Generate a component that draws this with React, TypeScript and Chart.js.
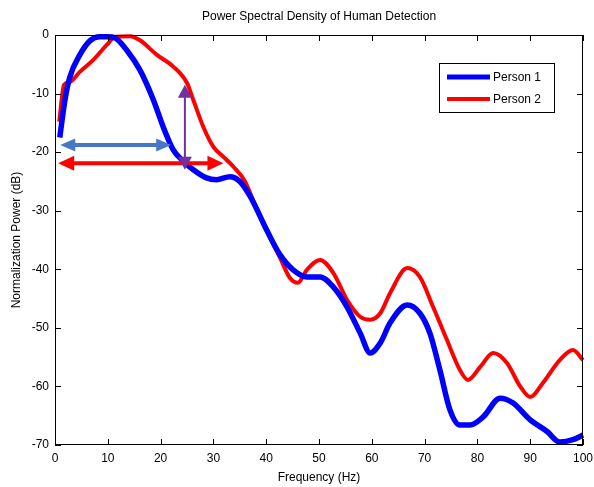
import React, { useEffect, useRef } from "react";
import { Chart, registerables } from "chart.js";
Chart.register(...registerables);

const TITLE = "Power Spectral Density of Human Detection";
const X_LABEL = "Frequency (Hz)";
const Y_LABEL = "Normalization Power (dB)";
const SERIES_NAMES = ["Person 1", "Person 2"];
const X_MIN = 0;
const X_MAX = 100;
const Y_MIN = -70;
const Y_MAX = 0;
const X_TICKS = [0, 10, 20, 30, 40, 50, 60, 70, 80, 90, 100];
const Y_TICKS = [0, -10, -20, -30, -40, -50, -60, -70];

const freq1 = [0.9, 1.9, 2.8, 4.7, 6.6, 8.5, 10, 11.4, 13.6, 16.1, 18.6, 20.5, 22.4, 24, 26.2, 28.7, 30.6, 33.1, 35, 37, 40.1, 42.6, 45.1, 47.7, 50.2, 52.7, 55.3, 57.8, 59.7, 61.6, 63.5, 66.7, 69.1, 71, 72.9, 74.8, 76.7, 78.6, 81.1, 84.3, 86.7, 90, 93.2, 95.6, 98.1, 100];
const power1 = [-17.5, -11, -7.2, -3.4, -1, -0.3, -0.3, -0.5, -2.6, -6, -11, -15.7, -19.6, -21.3, -23, -24.4, -24.7, -24.2, -25, -27.6, -33.3, -37.5, -40.1, -41.3, -41.3, -43, -46.4, -50.9, -54.3, -52.6, -49.1, -46.1, -47.5, -50.9, -57.2, -64, -66.6, -66.6, -65.2, -62, -62.8, -65.7, -67.7, -69.5, -69.1, -68.3];

const freq2 = [0.8, 1.7, 2.8, 4.7, 7.2, 9.8, 11.4, 14.2, 16.1, 19.3, 22.4, 25, 26.2, 28.1, 30, 31.9, 33.8, 36, 37.5, 40.1, 42.6, 44.5, 46, 47.7, 50.2, 52.7, 55.3, 57.8, 59.7, 61.6, 63.5, 66.7, 69.1, 71.6, 74.2, 76.7, 78.2, 80.5, 83, 85.6, 88.1, 90, 92.4, 95.6, 98.1, 100];
const power2 = [-14.8, -8.5, -8, -6.3, -4.3, -1.7, -0.3, -0.2, -0.9, -3.4, -5.4, -8.2, -11.1, -15.7, -19.1, -20.8, -22.5, -25, -28.2, -33.5, -38, -41.5, -42.3, -40.1, -38.4, -40.6, -45.2, -48.1, -48.6, -47.5, -44, -39.8, -41.3, -46.4, -52, -57.2, -58.9, -56.7, -54.3, -56, -60, -61.8, -59.4, -55.5, -53.8, -55.5];

// annotation arrows [x1, y1, x2, y2] in data units
const arrowBlue = [1, -18.8, 22, -18.8];
const arrowRed = [0.6, -21.9, 31.9, -21.9];
const arrowPurple = [24.6, -23, 24.6, -8.5];

const FONT = "'Liberation Sans', Arial, sans-serif";

function head(ctx: CanvasRenderingContext2D, tx: number, ty: number, ang: number, len: number, hw: number) {
  ctx.beginPath();
  ctx.moveTo(tx, ty);
  ctx.lineTo(tx - len * Math.cos(ang) + hw * Math.sin(ang), ty - len * Math.sin(ang) - hw * Math.cos(ang));
  ctx.lineTo(tx - len * Math.cos(ang) - hw * Math.sin(ang), ty - len * Math.sin(ang) + hw * Math.cos(ang));
  ctx.closePath();
  ctx.fill();
}

function dblArrow(chart: any, a: number[], color: string, lw: number, len: number, hw: number) {
  const ctx = chart.ctx as CanvasRenderingContext2D;
  const xs = chart.scales.x, ys = chart.scales.y;
  const x1 = xs.getPixelForValue(a[0]), y1 = ys.getPixelForValue(a[1]);
  const x2 = xs.getPixelForValue(a[2]), y2 = ys.getPixelForValue(a[3]);
  const ang = Math.atan2(y2 - y1, x2 - x1);
  ctx.save();
  ctx.strokeStyle = color;
  ctx.fillStyle = color;
  ctx.lineWidth = lw;
  ctx.beginPath();
  ctx.moveTo(x1 + (len - 1) * Math.cos(ang), y1 + (len - 1) * Math.sin(ang));
  ctx.lineTo(x2 - (len - 1) * Math.cos(ang), y2 - (len - 1) * Math.sin(ang));
  ctx.stroke();
  head(ctx, x2, y2, ang, len, hw);
  head(ctx, x1, y1, ang + Math.PI, len, hw);
  ctx.restore();
}

const decorPlugin = {
  id: "decor",
  afterDatasetsDraw(chart: any) {
    const ctx = chart.ctx as CanvasRenderingContext2D;
    const { left, right, top, bottom } = chart.chartArea;
    const xs = chart.scales.x, ys = chart.scales.y;

    dblArrow(chart, arrowBlue, "#4677C8", 4, 15, 6.5);
    dblArrow(chart, arrowRed, "#FF0000", 4, 16, 7.5);
    dblArrow(chart, arrowPurple, "#7030A0", 2, 13, 7);

    ctx.save();
    // frame
    ctx.strokeStyle = "#000";
    ctx.lineWidth = 1;
    ctx.strokeRect(left + 0.5, top + 0.5, right - left - 1, bottom - top - 1);
    ctx.beginPath();
    const tl = 6;
    X_TICKS.forEach((v) => {
      const px = Math.round(xs.getPixelForValue(v)) + 0.5;
      ctx.moveTo(px, bottom);
      ctx.lineTo(px, bottom - tl);
      ctx.moveTo(px, top);
      ctx.lineTo(px, top + tl);
    });
    Y_TICKS.forEach((v) => {
      const py = Math.round(ys.getPixelForValue(v)) + 0.5;
      ctx.moveTo(left, py);
      ctx.lineTo(left + tl, py);
      ctx.moveTo(right, py);
      ctx.lineTo(right - tl, py);
    });
    ctx.stroke();

    // legend
    const lx = right - 144, ly = top + 28, lw = 115, lh = 49;
    ctx.fillStyle = "#fff";
    ctx.fillRect(lx, ly, lw, lh);
    ctx.strokeStyle = "#000";
    ctx.lineWidth = 1;
    ctx.strokeRect(lx + 0.5, ly + 0.5, lw, lh);
    const colors = ["#0000FF", "#FF0000"];
    const widths = [5, 4];
    ctx.font = `12px ${FONT}`;
    ctx.textBaseline = "middle";
    ctx.textAlign = "left";
    SERIES_NAMES.forEach((name, i) => {
      const yy = ly + 14 + i * 22;
      ctx.strokeStyle = colors[i];
      ctx.lineWidth = widths[i];
      ctx.beginPath();
      ctx.moveTo(lx + 8, yy);
      ctx.lineTo(lx + 51, yy);
      ctx.stroke();
      ctx.fillStyle = "#000";
      ctx.fillText(name, lx + 54, yy + 1);
    });

    // title and axis labels
    ctx.fillStyle = "#000";
    ctx.font = `12px ${FONT}`;
    ctx.textAlign = "center";
    ctx.textBaseline = "middle";
    const cx = (left + right) / 2;
    ctx.fillText(TITLE, cx, 17);
    ctx.fillText(X_LABEL, cx, 478);
    ctx.save();
    ctx.translate(17, (top + bottom) / 2);
    ctx.rotate(-Math.PI / 2);
    ctx.fillText(Y_LABEL, 0, 0);
    ctx.restore();
    ctx.restore();
  },
};

export default function App() {
  const ref = useRef<HTMLCanvasElement | null>(null);
  useEffect(() => {
    document.body.style.margin = "0";
    const canvas = ref.current!;
    const chart = new Chart(canvas, {
      type: "line",
      data: {
        datasets: [
          {
            label: SERIES_NAMES[0],
            data: freq1.map((f, i) => ({ x: f, y: power1[i] })),
            borderColor: "#0000FF",
            backgroundColor: "#0000FF",
            borderWidth: 5.5,
            pointRadius: 0,
            cubicInterpolationMode: "monotone",
            clip: false,
          } as any,
          {
            label: SERIES_NAMES[1],
            data: freq2.map((f, i) => ({ x: f, y: power2[i] })),
            borderColor: "#FF0000",
            backgroundColor: "#FF0000",
            borderWidth: 4,
            pointRadius: 0,
            cubicInterpolationMode: "monotone",
            clip: false,
          } as any,
        ],
      },
      options: {
        animation: false,
        responsive: false,
        maintainAspectRatio: false,
        layout: { padding: { top: 35, right: 11, left: 0, bottom: 0 } },
        plugins: { legend: { display: false }, title: { display: false }, tooltip: { enabled: false } },
        scales: {
          x: {
            type: "linear",
            min: X_MIN,
            max: X_MAX,
            afterFit: (s: any) => { s.height = 42; s.paddingLeft = 0; s.paddingRight = 0; },
            afterBuildTicks: (s: any) => { s.ticks = X_TICKS.map((v) => ({ value: v })); },
            grid: { display: false, drawTicks: false },
            border: { display: false },
            ticks: { color: "#000", font: { family: FONT, size: 12 }, padding: 6, maxRotation: 0, autoSkip: false },
          },
          y: {
            type: "linear",
            min: Y_MIN,
            max: Y_MAX,
            afterFit: (s: any) => { s.width = 55; s.paddingTop = 0; s.paddingBottom = 0; },
            afterBuildTicks: (s: any) => { s.ticks = Y_TICKS.map((v) => ({ value: v })); },
            grid: { display: false, drawTicks: false },
            border: { display: false },
            ticks: { color: "#000", font: { family: FONT, size: 12 }, padding: 6, autoSkip: false },
          },
        },
      },
      plugins: [decorPlugin],
    });
    return () => chart.destroy();
  }, []);
  return <canvas ref={ref} width={594} height={487} style={{ display: "block" }} />;
}
